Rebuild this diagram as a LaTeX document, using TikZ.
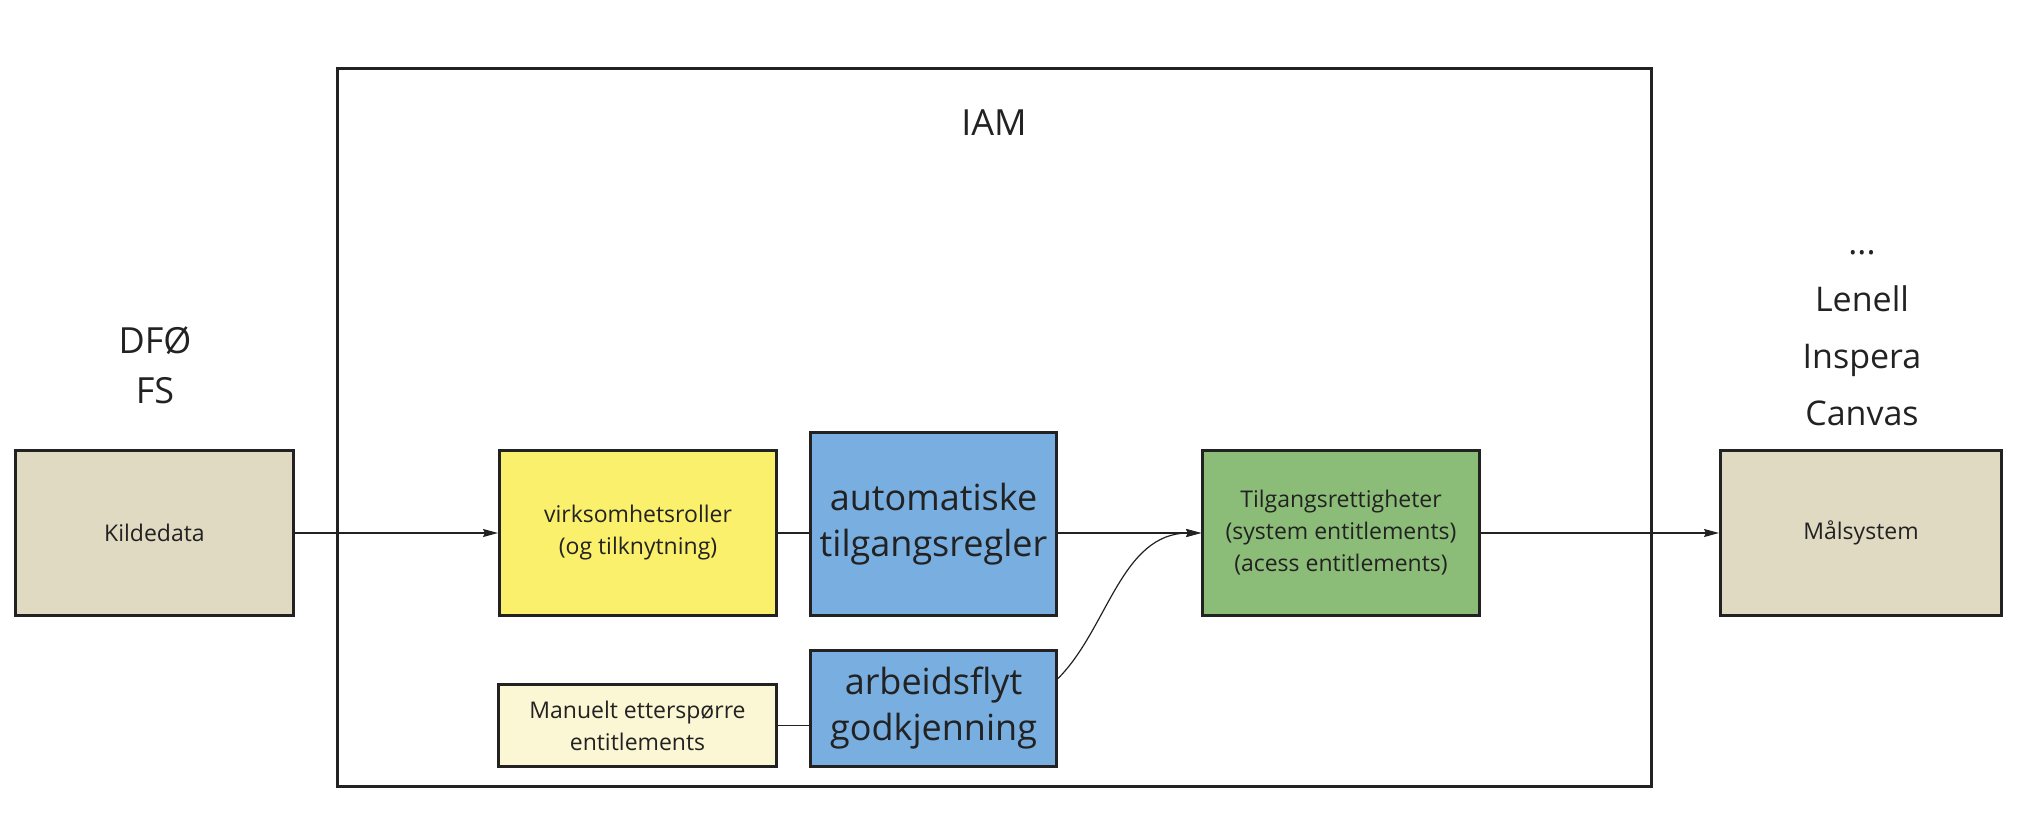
\documentclass[tikz,border=0pt]{standalone}
\usepackage{fontspec}
\setmainfont{Open Sans}
\usetikzlibrary{positioning}
\usetikzlibrary{arrows.meta}

\definecolor{ink}{HTML}{222222}
\definecolor{sand}{HTML}{E0DAC2}
\definecolor{gul}{HTML}{FBF06B}
\definecolor{lysgul}{HTML}{FBF6D3}
\definecolor{blaa}{HTML}{78AEE0}
\definecolor{groenn}{HTML}{8CBD78}

\begin{document}
\begin{tikzpicture}
          [x=0.5pt, y=-0.5pt, thick,
           box/.style = {draw=ink, line width=1.5pt, align=center, text=ink,
                         font=\fontsize{11.5}{16}\selectfont},
           big/.style = {box, fill=blaa, inner xsep=1pt, font=\fontsize{18}{23}\selectfont},
           head/.style = {align=center, text=ink, font=\fontsize{18}{25}\selectfont},
           pil/.style = {ink, line width=0.6pt},
           >={Stealth[length=7.5pt, width=4pt, inset=1pt]}]
          \useasboundingbox (0,0) rectangle (2024,818);
          \draw[line width=1.5pt, ink] (337,69) rectangle (1651,786);
          \node[head] (iam) at (994,123) {IAM};

          \node[box, fill=sand, minimum width=139pt, minimum height=82.5pt] (1) at (154.5,533) {Kildedata};
          \node[box, fill=gul, minimum width=138.5pt, minimum height=82.5pt] (2) [right=101.5pt of 1] {virksomhetsroller\\(og tilknytning)};
          \node[big, minimum width=123pt, minimum height=91.5pt] (3) [right=15.5pt of 2.south east, anchor=south west] {automatiske\\tilgangsregler};
          \node[big, minimum width=123pt, minimum height=58pt] (4) [below=16pt of 3] {arbeidsflyt\\godkjenning};
          \node[box, fill=lysgul, minimum width=139pt, minimum height=41pt] (5) [left=15.5pt of 4.south west, anchor=south east] {Manuelt etterspørre\\entitlements};
          \node[box, fill=groenn, minimum width=138.5pt, minimum height=82.5pt] (6) [right=71.5pt of 3.south east, anchor=south west] {Tilgangsrettigheter\\(system entitlements)\\(acess entitlements)};
          \node[box, fill=sand, minimum width=140.5pt, minimum height=82.5pt] (7) [right=119pt of 6] {Målsystem};

          \node[head] (kilder) at (155,365) {DFØ\\FS};
          \node[head, font=\fontsize{17}{28.5}\selectfont] (maal) at (1862,338) {...\\Lenell\\Inspera\\Canvas};

          \draw[pil, ->] (1) to (2);
          \draw[pil] (2.east) -- (2.east -| 3.west);
          \draw[pil, ->] (6.west -| 3.east) -- (6.west);
          \draw[pil] (5.east) -- (5.east -| 4.west);
          \draw[pil, ->] ([yshift=15pt]4.east) .. controls +(25pt,25pt) and +(-40pt,0pt) .. (6.west);
          \draw[pil, ->] (6) to (7);
\end{tikzpicture}
\end{document}
